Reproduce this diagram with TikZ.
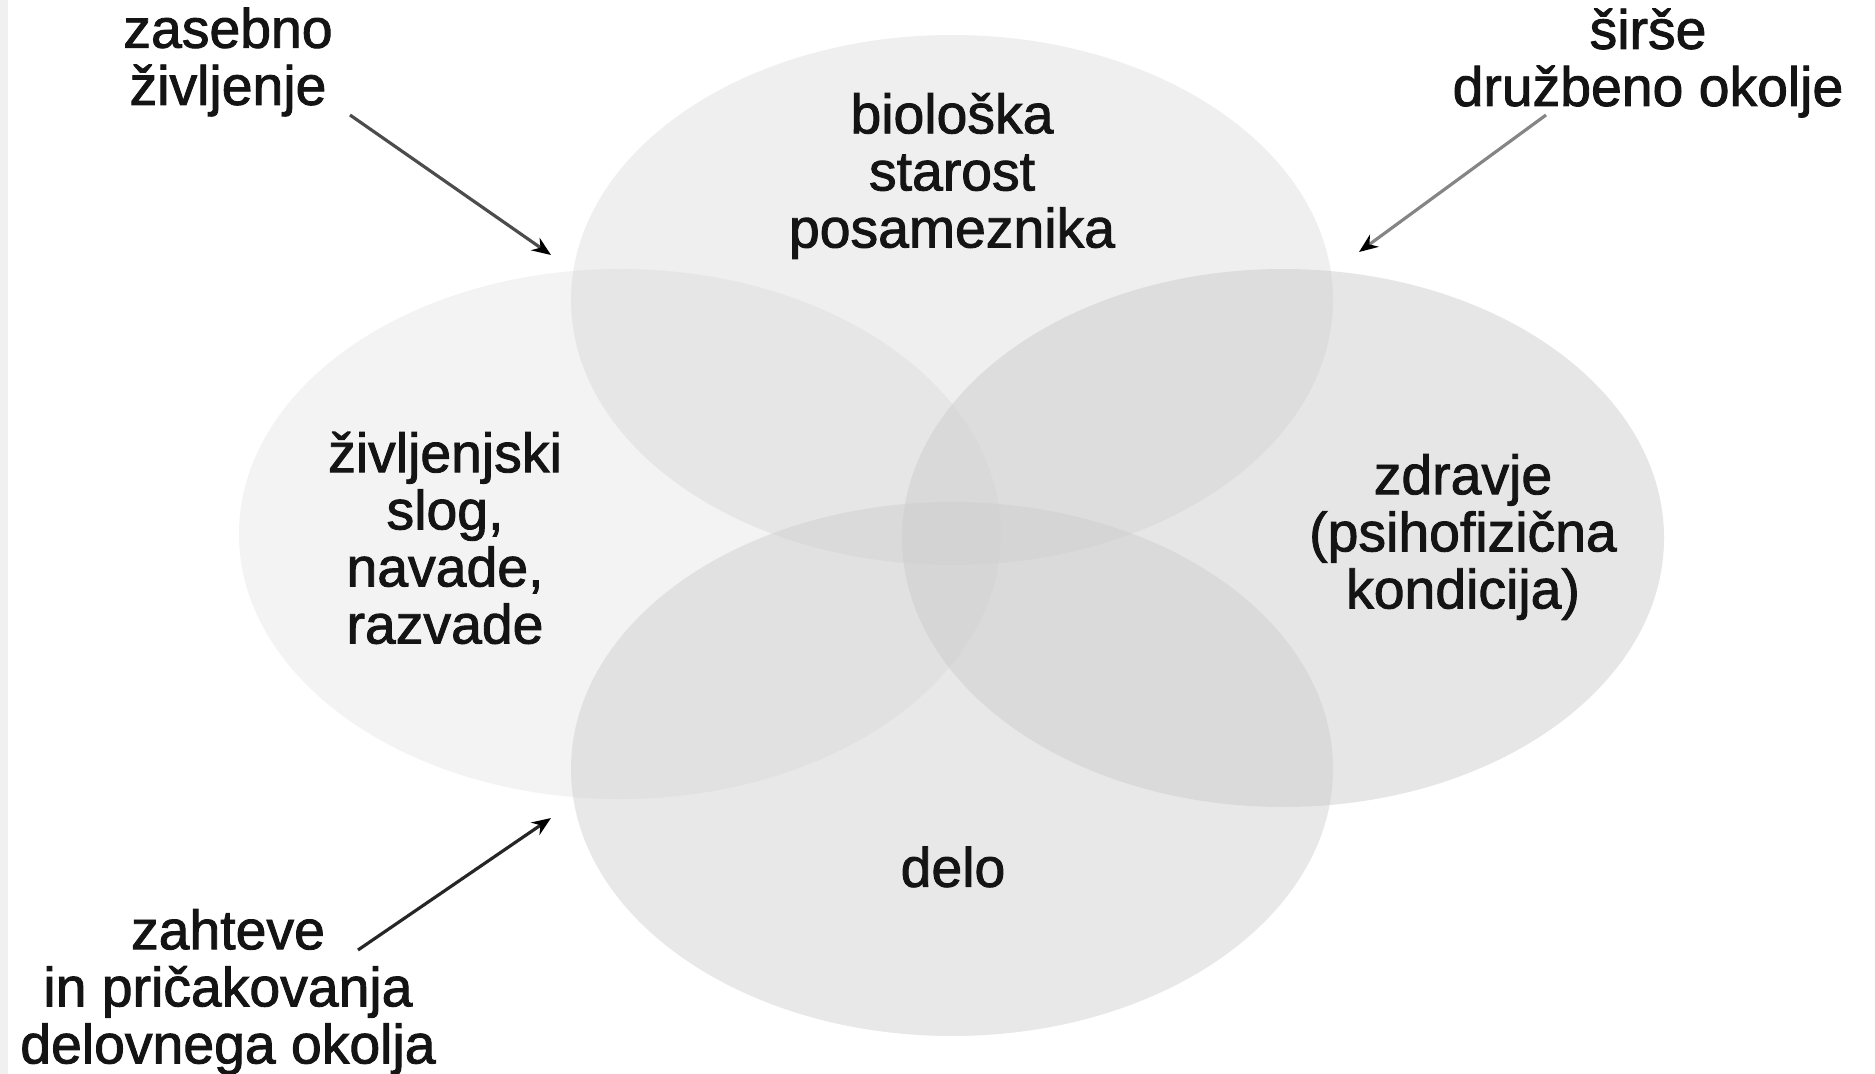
\documentclass[tikz,border=0pt]{standalone}
\usepackage{fontspec}
\setmainfont{Liberation Sans}
\newfontfamily\lblfont{Liberation Sans}[FakeBold=1.6]
\usetikzlibrary{arrows.meta}
\definecolor{ellgray}{gray}{0.8}
\definecolor{strip}{gray}{0.94}
\begin{document}
\begin{tikzpicture}[x=0.02cm,y=-0.02cm,
  lbl/.style={align=center, text=black!92, font=\lblfont\fontsize{31.5}{32.5}\selectfont, inner sep=0pt},
  arr/.style={line width=1.8pt, -{Stealth[length=0.38cm,width=0.3cm,color=black]}}]
\useasboundingbox (0,0) rectangle (1875,1074);
\fill[white] (0,0) rectangle (1875,1074);
\fill[strip] (0,0) rectangle (8,1074);
% ellipses
\fill[ellgray, fill opacity=0.235] (620,534) ellipse [x radius=381, y radius=265];
\fill[ellgray, fill opacity=0.315] (952,300) ellipse [x radius=381, y radius=265];
\fill[ellgray, fill opacity=0.45] (952,769) ellipse [x radius=381, y radius=267];
\fill[ellgray, fill opacity=0.49] (1283,538) ellipse [x radius=381, y radius=269];
% labels
\node[lbl] (bio) at (952,176) {biološka\\starost\\posameznika};
\node[lbl] (slog) at (445,538) {življenjski\\slog,\\navade,\\razvade};
\node[lbl] (zdr) at (1463,537) {zdravje\\(psihofizična\\kondicija)};
\node[lbl] (delo) at (953,867) {delo};
\node[lbl] (zas) at (228,62) {zasebno\\življenje};
\node[lbl] (sir) at (1648,63) {širše\\družbeno okolje};
\node[lbl] (zah) at (228,992) {zahteve\\in pričakovanja\\delovnega okolja};
% arrows
\coordinate (a1s) at (350,115);
\coordinate (a1e) at (551,255);
\coordinate (a2s) at (1546,115);
\coordinate (a2e) at (1359,252);
\coordinate (a3s) at (358,950);
\coordinate (a3e) at (551,818);
\draw[arr, draw=black!70] (a1s) -- (a1e);
\draw[arr, draw=black!48] (a2s) -- (a2e);
\draw[arr, draw=black!85] (a3s) -- (a3e);
\end{tikzpicture}
\end{document}
